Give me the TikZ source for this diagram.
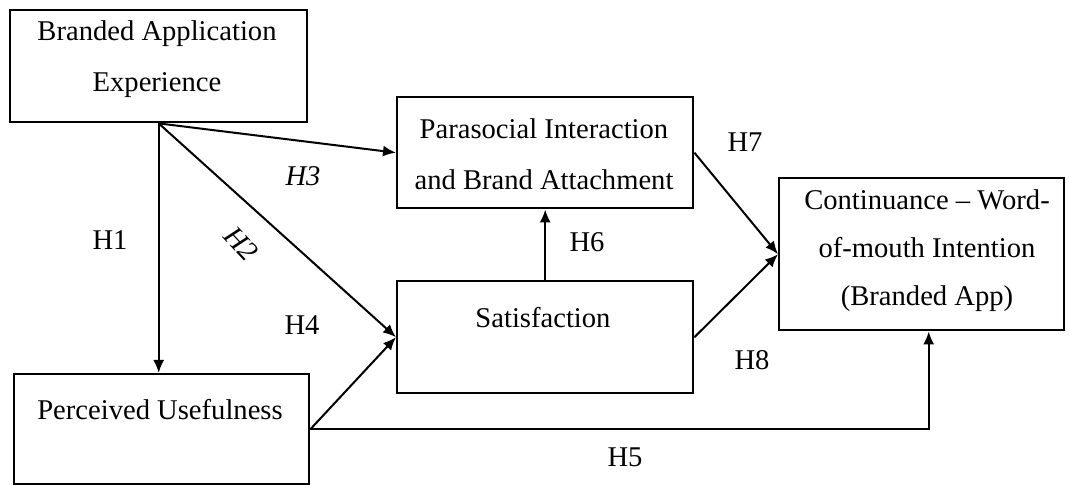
\documentclass[tikz,border=0pt]{standalone}
\usepackage{fontspec}
\setmainfont{Liberation Serif}
\usepackage{tikz}
\usetikzlibrary{arrows.meta}
\tikzset{every node/.append style={font=\fontsize{14.3}{25.5}\selectfont}}
\tikzset{
    box/.style={draw, line width=1.2pt, anchor=north west, inner sep=0pt},
    boxtext/.style={align=center, inner sep=1pt},
    hyp/.style={inner sep=0pt},
    link/.style={->, line width=1pt},
}

\begin{document}
\begin{tikzpicture}[x=0.5pt, y=-0.5pt, >={Latex[length=6.5pt, width=5.5pt]}]
    \useasboundingbox (0,0) rectangle (1069,485);
    % constructs
    \node[box, minimum width=148.5pt, minimum height=56pt] (bae) at (9,9) {};
    \node[box, minimum width=148pt, minimum height=55.5pt] (pai) at (396,96) {};
    \node[box, minimum width=148pt, minimum height=56pt] (sat) at (396,280) {};
    \node[box, minimum width=142.5pt, minimum height=76pt] (con) at (778,177) {};
    \node[box, minimum width=147.5pt, minimum height=55pt] (pu) at (13,373) {};
    % their labels, set high in each box
    \node[boxtext] (bae-t) at (157,59) {Branded Application\\Experience};
    \node[boxtext] (pai-t) at (544,154) {Parasocial Interaction\\and Brand Attachment};
    \node[boxtext] (sat-t) at (543,318) {Satisfaction};
    \node[boxtext, font=\fontsize{14.3}{24}\selectfont] (con-t) at (927,251) {Continuance -- Word-\\of-mouth Intention\\(Branded App)};
    \node[boxtext] (pu-t) at (160,410) {Perceived Usefulness};
    % paths
    \draw[link] (bae.south) -- (bae.south |- pu.north);
    \draw[link] (bae.south) -- (pai.west);
    \draw[link] (bae.south) -- (sat.west);
    \draw[link] (pu.east) -- (sat.west);
    \draw[link] (pu.east) -| ([xshift=3.5pt]con.south);
    \draw[link] (sat.north) -- (pai.south);
    \draw[link] (pai.east) -- (con.west);
    \draw[link] (sat.east) -- (con.west);
    % hypotheses
    \node[hyp] (h1) at (110,240) {H1};
    \node[hyp, rotate=-47] (h2) at (241,244) {\itshape H2};
    \node[hyp] (h3) at (303,176) {\itshape H3};
    \node[hyp] (h4) at (302,325) {H4};
    \node[hyp] (h5) at (625,457) {H5};
    \node[hyp] (h6) at (587,242) {H6};
    \node[hyp] (h7) at (745,142) {H7};
    \node[hyp] (h8) at (752,360) {H8};
\end{tikzpicture}
\end{document}
